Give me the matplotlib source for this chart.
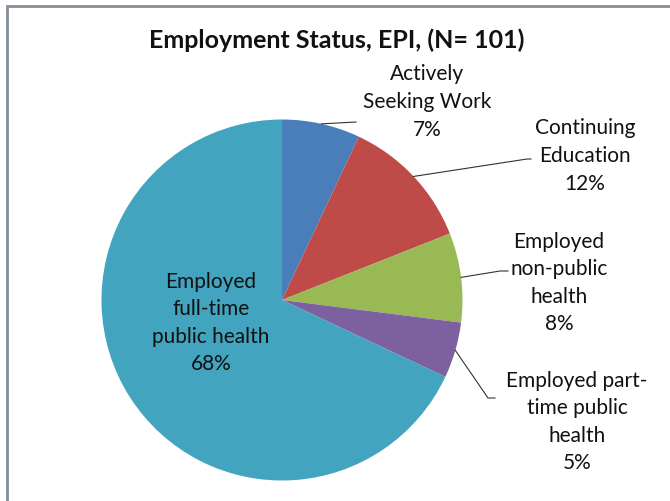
import numpy as np
import matplotlib.pyplot as plt
from matplotlib.patches import Rectangle

# data
labels = ['Actively\nSeeking Work', 'Continuing\nEducation', 'Employed\nnon-public\nhealth',
          'Employed part-\ntime public\nhealth', 'Employed\nfull-time\npublic health']
shares = [7, 12, 8, 5, 68]
colors = ['#4A7EBB', '#BE4B48', '#98B954', '#7D60A0', '#43A4BF']
title = 'Employment Status, EPI, (N= 101)'

# layout in pixel units (y measured from the top of the picture)
W, H = 670, 502
cx, cy, r = 282, 301, 180.5
label_pos = [(427, 102), (585, 156), (559, 283), (577, 422), (211, 323)]
leader_ends = [[(356, 123)], [(527, 160), (531, 160)], [(500, 272), (508, 272)],
               [(488, 399), (495, 399)], None]

fig = plt.figure(figsize=(W / 100, H / 100), dpi=100)
ax = fig.add_axes([0, 0, 1, 1])

wedges, _ = ax.pie(shares, colors=colors, startangle=90, counterclock=False,
                   center=(cx, H - cy), radius=r, wedgeprops=dict(linewidth=0))
# pie() sets its own limits, so put the pixel frame back afterwards
ax.set_xlim(0, W)
ax.set_ylim(0, H)
ax.set_aspect('equal')
ax.axis('off')

for w, lab, s, pos, ends in zip(wedges, labels, shares, label_pos, leader_ends):
    ax.text(pos[0], H - pos[1], f'{lab}\n{s}%', ha='center', va='center',
            fontsize=15, family='Lato', linespacing=1.47, color='#111111')
    if ends:
        mid = np.deg2rad((w.theta1 + w.theta2) / 2)
        xs = [cx + r * np.cos(mid)] + [p[0] for p in ends]
        ys = [H - cy + r * np.sin(mid)] + [H - p[1] for p in ends]
        ax.plot(xs, ys, color='#333333', lw=0.8)

fig.text(337 / W, 1 - 40 / H, title, ha='center', va='center', fontsize=18,
         fontweight='bold', family='Lato', color='#111111')

ax.add_patch(Rectangle((6.5, -20), 700, H - 6.5 + 20, fill=False,
                       edgecolor='#868E9A', lw=2, clip_on=False))

fig.savefig('out.png', dpi=100)
